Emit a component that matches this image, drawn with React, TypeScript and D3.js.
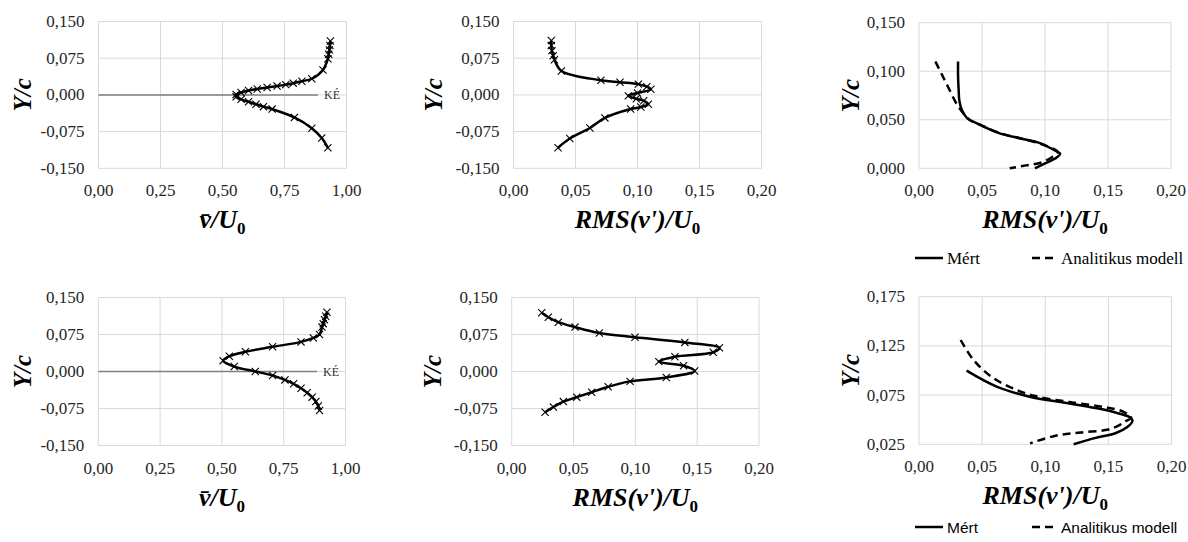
import React from "react";
import * as d3 from "d3";

// measured profiles, [x, Y/c]
const meanTop: [number, number][] = [
  [0.935, 0.11], [0.933, 0.101], [0.931, 0.092], [0.928, 0.083], [0.925, 0.074],
  [0.905, 0.051], [0.86, 0.033], [0.82, 0.028], [0.785, 0.024], [0.755, 0.021],
  [0.72, 0.018], [0.68, 0.015], [0.64, 0.012], [0.605, 0.009], [0.575, 0.005],
  [0.555, 0.001], [0.555, -0.004], [0.575, -0.009], [0.605, -0.014], [0.635, -0.019],
  [0.665, -0.024], [0.7, -0.029], [0.79, -0.046], [0.86, -0.068], [0.9, -0.088],
  [0.925, -0.108],
];
const rmsTop: [number, number][] = [
  [0.0305, 0.111], [0.0305, 0.101], [0.031, 0.0905], [0.032, 0.08], [0.033, 0.072],
  [0.0386, 0.049], [0.0705, 0.03], [0.0859, 0.026], [0.1007, 0.022], [0.1075, 0.0168],
  [0.1108, 0.0114], [0.1, 0.004], [0.0926, -0.002], [0.099, -0.008], [0.105, -0.012],
  [0.1088, -0.019], [0.1027, -0.0248], [0.0945, -0.0288], [0.0737, -0.047],
  [0.0616, -0.0677], [0.0454, -0.0892], [0.0359, -0.108],
];
const mertTop: [number, number][] = [
  [0.031, 0.11], [0.031, 0.095], [0.0315, 0.08], [0.032, 0.07], [0.034, 0.06],
  [0.038, 0.052], [0.048, 0.045], [0.064, 0.036], [0.08, 0.031], [0.096, 0.026],
  [0.107, 0.019], [0.112, 0.015], [0.108, 0.01], [0.1, 0.005], [0.092, 0.0],
];
const modelTop: [number, number][] = [
  [0.013, 0.11], [0.018, 0.097], [0.023, 0.084], [0.03, 0.066], [0.035, 0.057],
  [0.04, 0.05], [0.05, 0.044], [0.065, 0.036], [0.08, 0.031], [0.097, 0.025],
  [0.11, 0.017], [0.106, 0.012], [0.097, 0.006], [0.085, 0.003], [0.072, 0.0],
];
const meanBottom: [number, number][] = [
  [0.925, 0.12], [0.92, 0.112], [0.915, 0.105], [0.91, 0.097], [0.905, 0.09],
  [0.895, 0.075], [0.87, 0.068], [0.82, 0.06], [0.705, 0.05], [0.595, 0.04],
  [0.53, 0.031], [0.505, 0.022], [0.55, 0.01], [0.635, 0.0], [0.705, -0.008],
  [0.755, -0.017], [0.79, -0.025], [0.82, -0.034], [0.845, -0.043], [0.865, -0.052],
  [0.88, -0.061], [0.89, -0.07], [0.895, -0.079],
];
const rmsBottom: [number, number][] = [
  [0.0243, 0.119], [0.0296, 0.11], [0.0377, 0.1], [0.0512, 0.09], [0.0709, 0.078],
  [0.0997, 0.0695], [0.14, 0.059], [0.168, 0.048], [0.163, 0.039], [0.132, 0.03],
  [0.119, 0.02], [0.139, 0.0116], [0.148, 0.001], [0.125, -0.012], [0.0957, -0.02],
  [0.078, -0.031], [0.0647, -0.042], [0.0526, -0.052], [0.0418, -0.061],
  [0.0337, -0.072], [0.027, -0.0825],
];
const mertBottom: [number, number][] = [
  [0.0377, 0.0998], [0.0615, 0.0836], [0.0877, 0.0734], [0.114, 0.0675], [0.14, 0.0618],
  [0.159, 0.0561], [0.168, 0.0517], [0.169, 0.0483], [0.165, 0.0426], [0.156, 0.0365],
  [0.14, 0.0315], [0.1225, 0.025],
];
const modelBottom: [number, number][] = [
  [0.033, 0.131], [0.043, 0.111], [0.057, 0.094], [0.074, 0.082], [0.092, 0.074],
  [0.119, 0.068], [0.146, 0.063], [0.162, 0.058], [0.168, 0.052], [0.163, 0.048],
  [0.158, 0.044], [0.15, 0.04], [0.128, 0.037], [0.109, 0.034], [0.088, 0.026],
];

const xTicksMean = [0, 0.25, 0.5, 0.75, 1];
const xTicksRms = [0, 0.05, 0.1, 0.15, 0.2];
const yTicksSym = [-0.15, -0.075, 0, 0.075, 0.15];
const yTicksTopRight = [0, 0.05, 0.1, 0.15];
const yTicksBottomRight = [0.025, 0.075, 0.125, 0.175];
const legendLabels = ["Mért", "Analitikus modell"];
const zeroLabel = "KÉ";
const zeroLineEnd = 0.885;

const loc = d3.formatLocale({
  decimal: ",",
  thousands: " ",
  grouping: [3],
  currency: ["", ""],
  minus: "-",
});
const f2 = loc.format(".2f");
const f3 = loc.format(".3f");

const SERIF = "Liberation Serif";
const SANS = "Liberation Sans";

type Series = { data: [number, number][]; dashed?: boolean; markers?: boolean };

type PanelProps = {
  left: number;
  right: number;
  top: number;
  bottom: number;
  xTicks: number[];
  yTicks: number[];
  yTitleX: number;
  kind: "mean" | "rms";
  series: Series[];
  zero?: boolean;
  legendY?: number;
  legendFont?: string;
  legendSize?: number;
};

function Panel(p: PanelProps) {
  const x = d3
    .scaleLinear()
    .domain([p.xTicks[0], p.xTicks[p.xTicks.length - 1]])
    .range([p.left, p.right]);
  const y = d3
    .scaleLinear()
    .domain([p.yTicks[0], p.yTicks[p.yTicks.length - 1]])
    .range([p.bottom, p.top]);
  const line = d3
    .line<[number, number]>()
    .x((d) => x(d[0]))
    .y((d) => y(d[1]))
    .curve(d3.curveCatmullRom.alpha(0.5));
  const midX = (p.left + p.right) / 2;
  const midY = (p.top + p.bottom) / 2;

  return (
    <g>
      {p.xTicks.map((t) => (
        <line key={"gx" + t} x1={x(t)} x2={x(t)} y1={p.top} y2={p.bottom} stroke="#d9d9d9" strokeWidth={1} />
      ))}
      {p.yTicks.map((t) => (
        <line key={"gy" + t} x1={p.left} x2={p.right} y1={y(t)} y2={y(t)} stroke="#d9d9d9" strokeWidth={1} />
      ))}
      {p.xTicks.map((t) => (
        <text key={"tx" + t} x={x(t)} y={p.bottom + 28} textAnchor="middle" fontFamily={SERIF} fontSize={17} fill="#262626">
          {f2(t)}
        </text>
      ))}
      {p.yTicks.map((t) => (
        <text key={"ty" + t} x={p.left - 14} y={y(t) + 5.5} textAnchor="end" fontFamily={SERIF} fontSize={17} fill="#262626">
          {f3(t)}
        </text>
      ))}
      {p.zero && (
        <g>
          <line x1={x(0)} x2={x(zeroLineEnd)} y1={y(0)} y2={y(0)} stroke="#7f7f7f" strokeWidth={1.5} />
          <text x={x(zeroLineEnd) + 6} y={y(0) + 4.5} fontFamily={SERIF} fontSize={12} fill="#333">
            {zeroLabel}
          </text>
        </g>
      )}
      {p.series.map((s, i) => (
        <g key={"s" + i}>
          <path
            d={line(s.data) || ""}
            fill="none"
            stroke="#000"
            strokeWidth={2.5}
            strokeDasharray={s.dashed ? "8,5" : undefined}
            strokeLinejoin="round"
          />
          {s.markers &&
            s.data.map((d, j) => {
              const cx = x(d[0]);
              const cy = y(d[1]);
              const r = 3.6;
              return (
                <path
                  key={j}
                  d={`M${cx - r},${cy - r}L${cx + r},${cy + r}M${cx - r},${cy + r}L${cx + r},${cy - r}`}
                  stroke="#000"
                  strokeWidth={1.1}
                />
              );
            })}
        </g>
      ))}
      <text
        transform={`translate(${p.yTitleX},${midY}) rotate(-90)`}
        textAnchor="middle"
        dominantBaseline="central"
        fontFamily={SERIF}
        fontWeight="bold"
        fontStyle="italic"
        fontSize={25}
      >
        Y/c
      </text>
      <text
        x={midX}
        y={p.bottom + 60}
        textAnchor="middle"
        fontFamily={SERIF}
        fontWeight="bold"
        fontStyle="italic"
        fontSize={26}
      >
        {p.kind === "mean" ? "v\u0304/U" : "RMS(v')/U"}
        <tspan fontSize={17} dy={6} fontStyle="normal">
          0
        </tspan>
      </text>
      {p.legendY !== undefined && (
        <g fontFamily={p.legendFont} fontSize={p.legendSize} fill="#000">
          <line x1={915} x2={943} y1={p.legendY} y2={p.legendY} stroke="#000" strokeWidth={2.5} />
          <text x={947} y={p.legendY + 5.5}>
            {legendLabels[0]}
          </text>
          <line x1={1032} x2={1058} y1={p.legendY} y2={p.legendY} stroke="#000" strokeWidth={2.5} strokeDasharray="8,5" />
          <text x={1061} y={p.legendY + 5.5}>
            {legendLabels[1]}
          </text>
        </g>
      )}
    </g>
  );
}

export default function App() {
  return (
    <svg
      width={1188}
      height={542}
      viewBox="0 0 1188 542"
      style={{ position: "absolute", left: 0, top: 0, background: "#fff" }}
    >
      <Panel left={98.5} right={346.5} top={21.5} bottom={168.3} xTicks={xTicksMean} yTicks={yTicksSym} yTitleX={22} kind="mean" zero series={[{ data: meanTop, markers: true }]} />
      <Panel left={513.5} right={761.5} top={21.5} bottom={168.3} xTicks={xTicksRms} yTicks={yTicksSym} yTitleX={433} kind="rms" series={[{ data: rmsTop, markers: true }]} />
      <Panel
        left={919}
        right={1171}
        top={22.7}
        bottom={168.3}
        xTicks={xTicksRms}
        yTicks={yTicksTopRight}
        yTitleX={850}
        kind="rms"
        series={[{ data: mertTop }, { data: modelTop, dashed: true }]}
        legendY={258}
        legendFont={SERIF}
        legendSize={17}
      />
      <Panel left={98.3} right={345.5} top={297.5} bottom={445.5} xTicks={xTicksMean} yTicks={yTicksSym} yTitleX={22} kind="mean" zero series={[{ data: meanBottom, markers: true }]} />
      <Panel left={511.7} right={759} top={297.5} bottom={445.5} xTicks={xTicksRms} yTicks={yTicksSym} yTitleX={432} kind="rms" series={[{ data: rmsBottom, markers: true }]} />
      <Panel
        left={919}
        right={1171.5}
        top={296.7}
        bottom={444.3}
        xTicks={xTicksRms}
        yTicks={yTicksBottomRight}
        yTitleX={850}
        kind="rms"
        series={[{ data: mertBottom }, { data: modelBottom, dashed: true }]}
        legendY={527}
        legendFont={SANS}
        legendSize={15.5}
      />
    </svg>
  );
}
